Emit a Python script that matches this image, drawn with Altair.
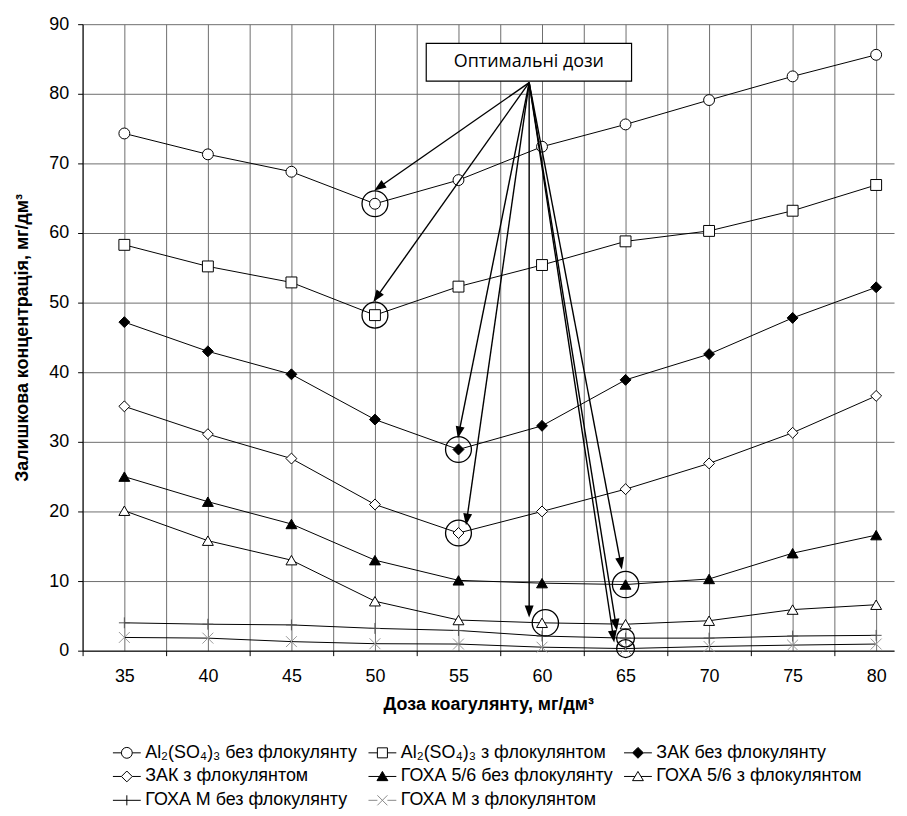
import math
import altair as alt
import pandas as pd

# ---------------- data ----------------
doses = [35, 40, 45, 50, 55, 60, 65, 70, 75, 80]
names = [
    "Al₂(SO₄)₃ без флокулянту",
    "Al₂(SO₄)₃ з флокулянтом",
    "ЗАК без флокулянту",
    "ЗАК з флокулянтом",
    "ГОХА 5/6 без флокулянту",
    "ГОХА 5/6 з флокулянтом",
    "ГОХА М без флокулянту",
    "ГОХА М з флокулянтом",
]
al_no = [74.3, 71.3, 68.8, 64.2, 67.6, 72.4, 75.6, 79.1, 82.5, 85.6]
al_fl = [58.3, 55.2, 52.9, 48.2, 52.3, 55.4, 58.8, 60.3, 63.2, 66.9]
zak_no = [47.2, 43.0, 39.7, 33.2, 28.9, 32.3, 38.9, 42.6, 47.8, 52.2]
zak_fl = [35.1, 31.1, 27.6, 21.0, 16.9, 20.0, 23.2, 26.9, 31.3, 36.6]
g56_no = [25.0, 21.4, 18.2, 13.0, 10.1, 9.7, 9.5, 10.3, 14.0, 16.6]
g56_fl = [20.1, 15.8, 13.0, 7.1, 4.4, 4.0, 3.8, 4.3, 5.9, 6.6]
gm_no = [4.0, 3.8, 3.7, 3.2, 2.9, 2.1, 1.8, 1.8, 2.1, 2.2]
gm_fl = [1.9, 1.8, 1.3, 1.0, 0.95, 0.5, 0.3, 0.6, 0.8, 0.95]
series = [al_no, al_fl, zak_no, zak_fl, g56_no, g56_fl, gm_no, gm_fl]

# optimal-dose highlights
opt_x = [50, 50, 55, 55, 60.2, 65, 65, 65]
opt_y = [64.2, 48.2, 28.9, 16.9, 4.0, 9.5, 1.8, 0.3]
opt_size = [676, 676, 676, 676, 700, 700, 324, 324]

# annotation box and arrows
box_label = "Оптимальні дози"
box_x = [53.07, 65.36]
box_y = [81.81, 87.24]
arrow_src = [59.23, 81.6]
tip_x = [49.96, 49.9, 54.96, 55.45, 59.23, 64.78, 64.48, 64.32]
tip_y = [66.1, 50.1, 30.5, 18.0, 4.76, 11.67, 2.86, 1.19]

# ---------------- styling ----------------
W, H = 816, 630
X_MIN, X_MAX = 32.5, 81.07
FONT = "Liberation Sans"
GRID = "#6e6e6e"

marker_shapes = ["circle", "square", "diamond", "diamond", "triangle-up", "triangle-up",
                 "M-1,0H1M0,-1V1", "M-1,-1L1,1M-1,1L1,-1"]
fills = ["white", "white", "black", "white", "black", "white", "white", "white"]
strokes = ["black", "black", "black", "black", "black", "black", "#555555", "#999999"]

legend_paths = [
    "M-1,0H-0.39M0.39,0H1M0.39,0A0.39,0.39,0,1,1,-0.39,0A0.39,0.39,0,1,1,0.39,0Z",
    "M-1,0H-0.36M0.36,0H1M-0.36,-0.36H0.36V0.36H-0.36Z",
    "M-1,0H-0.39M0.39,0H1M0,-0.39L0.39,0L0,0.39L-0.39,0Z",
    "M-1,0H-0.39M0.39,0H1M0,-0.39L0.39,0L0,0.39L-0.39,0Z",
    "M-1,0H-0.22M0.22,0H1M0,-0.36L0.39,0.3L-0.39,0.3Z",
    "M-1,0H-0.22M0.22,0H1M0,-0.36L0.39,0.3L-0.39,0.3Z",
    "M-1,0H1M0,-0.36V0.36",
    "M-1,0H-0.36M0.36,0H1M-0.36,-0.36L0.36,0.36M-0.36,0.36L0.36,-0.36",
]
legend_strokes = ["black", "black", "black", "black", "black", "black", "black", "#888888"]

# ---------------- tables ----------------
rows = []
for nm, vals in zip(names, series):
    for d, v in zip(doses, vals):
        rows.append({"series": nm, "dose": d, "value": v})
df = pd.DataFrame(rows)

sx = W / (X_MAX - X_MIN)
sy = H / 90.0
shafts, heads = [], []
for tx, ty in zip(tip_x, tip_y):
    dx = (tx - arrow_src[0]) * sx
    dy = -(ty - arrow_src[1]) * sy
    L = math.hypot(dx, dy)
    ux, uy = dx / L, dy / L
    shafts.append({"dose": arrow_src[0], "value": arrow_src[1],
                   "x2": tx - 8 * ux / sx, "y2": ty + 8 * uy / sy})
    heads.append({"dose": tx - 6 * ux / sx, "value": ty + 6 * uy / sy,
                  "angle": math.degrees(math.atan2(ux, -uy)) % 360})
shaft_df = pd.DataFrame(shafts)
head_df = pd.DataFrame(heads)
opt_df = pd.DataFrame({"dose": opt_x, "value": opt_y, "size": opt_size})
box_df = pd.DataFrame({"dose": [box_x[0]], "x2": [box_x[1]], "value": [box_y[0]], "y2": [box_y[1]],
                       "tx": [(box_x[0] + box_x[1]) / 2], "ty": [(box_y[0] + box_y[1]) / 2],
                       "label": [box_label]})

# ---------------- scales / axes ----------------
def xs():
    return alt.Scale(domain=[X_MIN, X_MAX], nice=False, zero=False)

def ys():
    return alt.Scale(domain=[0, 90], nice=False)

X_TITLE = "Доза коагулянту, мг/дм³"
Y_TITLE = "Залишкова концентрація, мг/дм³"

def x_axis():
    return alt.Axis(
        title=X_TITLE,
        values=[X_MIN + 2.5 * i for i in range(20)],
        labelExpr="datum.value % 5 === 0 ? datum.label : ''",
        format="d",
        labelOverlap=False, labelFlush=False,
        grid=True, gridColor=GRID, gridWidth=1,
        tickColor={"condition": {"test": "datum.value % 5 === 0", "value": "transparent"},
                   "value": "#000000"},
        tickSize=5, domainColor="#000000",
        labelFontSize=18, labelPadding=12, labelColor="#000000", labelFont=FONT,
        titleFontSize=18, titleFontWeight="bold", titlePadding=10, titleColor="#000000",
        titleFont=FONT,
    )

def y_axis():
    return alt.Axis(
        title=Y_TITLE,
        values=list(range(0, 91, 10)),
        grid=True, gridColor=GRID, gridWidth=1,
        tickColor="#000000", tickSize=5, domainColor="#000000",
        labelFontSize=18, labelPadding=9, labelColor="#000000", labelFont=FONT,
        titleFontSize=18, titleFontWeight="bold", titlePadding=17, titleColor="#000000",
        titleFont=FONT,
    )

def X(field="dose"):
    return alt.X(f"{field}:Q", scale=xs(), axis=x_axis(), title=X_TITLE)

def Y(field="value"):
    return alt.Y(f"{field}:Q", scale=ys(), axis=y_axis(), title=Y_TITLE)

lines = alt.Chart(df).mark_line(color="black", strokeWidth=1).encode(
    x=X(), y=Y(), detail="series:N", order="dose:Q")

markers = alt.Chart(df).mark_point(filled=True, size=120, strokeWidth=1, opacity=1).encode(
    x=X(), y=Y(),
    shape=alt.Shape("series:N", scale=alt.Scale(domain=names, range=marker_shapes), legend=None),
    fill=alt.Fill("series:N", scale=alt.Scale(domain=names, range=fills), legend=None),
    stroke=alt.Stroke("series:N", scale=alt.Scale(domain=names, range=strokes), legend=None),
)

leg = alt.Legend(
    title=None, orient="none", legendX=30, legendY=718, columns=3, direction="horizontal",
    symbolSize=784, symbolStrokeWidth=1, labelFontSize=18, labelFont=FONT, labelLimit=400,
    labelColor="#000000", rowPadding=0, columnPadding=8, labelOffset=4,
)
legend_layer = alt.Chart(df).transform_filter("datum.value < -1000").mark_point(
    filled=True, size=784, strokeWidth=1, opacity=1
).encode(
    x=X(), y=Y(),
    shape=alt.Shape("series:N", scale=alt.Scale(domain=names, range=legend_paths), legend=leg),
    fill=alt.Fill("series:N", scale=alt.Scale(domain=names, range=fills), legend=leg),
    stroke=alt.Stroke("series:N", scale=alt.Scale(domain=names, range=legend_strokes), legend=leg),
)

highlight = alt.Chart(opt_df).mark_point(
    shape="circle", filled=False, color="black", strokeWidth=1.3, opacity=1
).encode(x=X(), y=Y(), size=alt.Size("size:Q", scale=None))

shaft_layer = alt.Chart(shaft_df).mark_rule(color="black", strokeWidth=1.4).encode(
    x=X(), y=Y(), x2="x2:Q", y2="y2:Q")

head_layer = alt.Chart(head_df).mark_point(
    shape="M0,-1L0.75,1L-0.75,1Z", filled=True, color="black", size=144, opacity=1
).encode(x=X(), y=Y(), angle=alt.Angle("angle:Q", scale=None))

box = alt.Chart(box_df).mark_rect(fill="white", stroke="black", strokeWidth=1.2).encode(
    x=X(), y=Y(), x2="x2:Q", y2="y2:Q")

box_text = alt.Chart(box_df).mark_text(
    font="Open Sans", fontSize=18, color="black", baseline="middle", align="center"
).encode(x=X("tx"), y=Y("ty"), text="label:N")

chart = alt.layer(
    lines, markers, highlight, shaft_layer, head_layer, box, box_text, legend_layer
).resolve_scale(
    shape="independent", fill="independent", stroke="independent"
).properties(
    width=W, height=H
).configure(font=FONT).configure_view(stroke=None)

chart.save("out.html", embed_options={"renderer": "svg", "actions": False})
